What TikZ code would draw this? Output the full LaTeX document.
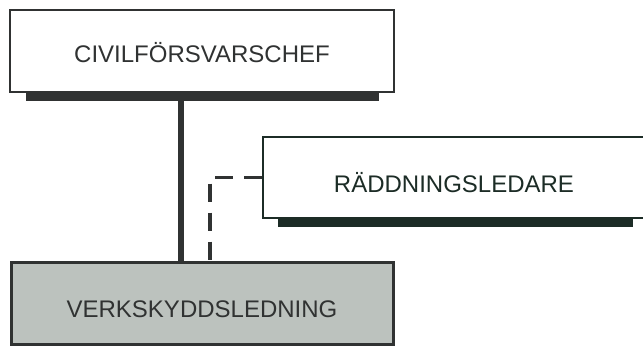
\documentclass[tikz,border=0pt]{standalone}
\usepackage{fontspec}
\setmainfont{Liberation Sans}
\usepackage{tikz}
\usetikzlibrary{positioning, calc}
\definecolor{boxline}{RGB}{48,50,50}
\definecolor{boxgreen}{RGB}{28,44,38}
\definecolor{cellfill}{RGB}{188,194,190}

\begin{document}
\begin{tikzpicture}[x=1pt, y=-1pt,
    font=\fontsize{24}{28}\selectfont,
    box/.style={draw=boxline, line width=2.2pt, fill=white, inner sep=0pt,
      text depth=0pt, text=boxline},
    shade/.style={fill=boxline, draw=none}]
  \useasboundingbox (0,0) rectangle (643,346);
  % ============ boxes ============
  \fill[shade] (26,92) rectangle (379,101);
  \node[box, minimum width=384, minimum height=82, text height=23pt] (chef) at (202,51) {CIVILFÖRSVARSCHEF};
  \fill[shade, fill=boxgreen] (278,218) rectangle (633,227);
  \node[box, draw=boxgreen, text=boxgreen, minimum width=382, minimum height=81, text height=29pt] (ledare) at (454,177.5) {RÄDDNINGSLEDARE};
  \node[box, fill=cellfill, line width=3pt, minimum width=382, minimum height=82, text height=29pt] (ledning) at (202,303) {VERKSKYDDSLEDNING};
  % ============ connectors ============
  \coordinate (solidx) at (181,0);
  \coordinate (dashx) at (210,0);
  \draw[boxline, line width=6pt] (solidx |- chef.south) -- (solidx |- ledning.north);
  \draw[boxline, line width=3.5pt, dash pattern=on 18pt off 11pt]
    (ledare.west) -| (dashx |- ledning.north);
\end{tikzpicture}
\end{document}
